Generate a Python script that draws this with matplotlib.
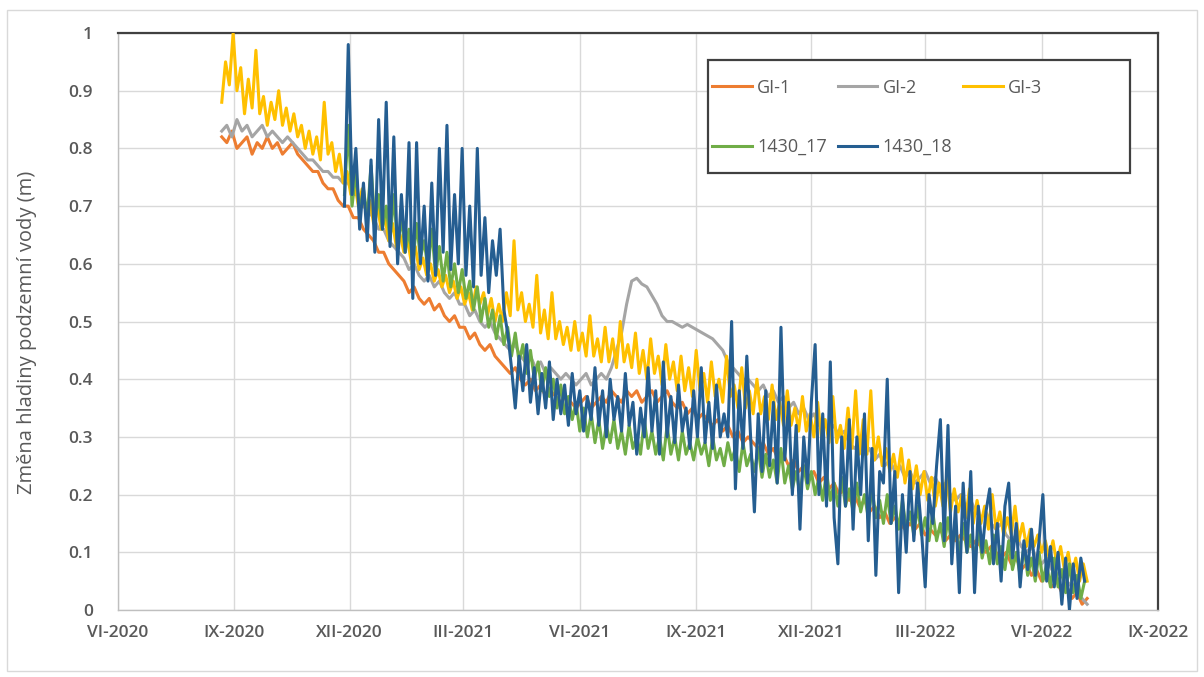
import numpy as np
import pandas as pd
import matplotlib
matplotlib.use("Agg")
import matplotlib.pyplot as plt
import matplotlib.dates as mdates
from matplotlib.patches import Rectangle

# ---- data (day offsets from 2020-06-01) ------------------------------------
ORIGIN = pd.Timestamp("2020-06-01")

GI1_START, GI1_STEP = 82, 4
GI1 = [0.82, 0.81, 0.83, 0.80, 0.81, 0.82, 0.79, 0.81, 0.80, 0.82,
       0.80, 0.81, 0.79, 0.80, 0.81, 0.79, 0.78, 0.77, 0.76, 0.76,
       0.74, 0.73, 0.73, 0.71, 0.70, 0.70, 0.68, 0.68, 0.66, 0.65,
       0.64, 0.62, 0.62, 0.60, 0.59, 0.58, 0.57, 0.55, 0.56, 0.54,
       0.53, 0.54, 0.52, 0.53, 0.51, 0.50, 0.51, 0.49, 0.49, 0.47,
       0.48, 0.46, 0.45, 0.46, 0.44, 0.43, 0.42, 0.41, 0.42, 0.40,
       0.39, 0.40, 0.38, 0.39, 0.37, 0.38, 0.37, 0.36, 0.37, 0.36,
       0.35, 0.36, 0.37, 0.35, 0.36, 0.37, 0.36, 0.38, 0.37, 0.36,
       0.38, 0.37, 0.38, 0.36, 0.37, 0.38, 0.36, 0.37, 0.38, 0.36,
       0.35, 0.36, 0.34, 0.35, 0.33, 0.34, 0.33, 0.32, 0.33, 0.31,
       0.32, 0.30, 0.31, 0.29, 0.30, 0.29, 0.28, 0.29, 0.27, 0.28,
       0.26, 0.27, 0.25, 0.26, 0.24, 0.25, 0.23, 0.24, 0.22, 0.23,
       0.21, 0.22, 0.20, 0.21, 0.19, 0.20, 0.18, 0.19, 0.17, 0.18,
       0.16, 0.17, 0.15, 0.16, 0.15, 0.14, 0.15, 0.14, 0.15, 0.13,
       0.14, 0.13, 0.14, 0.12, 0.13, 0.12, 0.13, 0.12, 0.11, 0.12,
       0.11, 0.10, 0.11, 0.10, 0.09, 0.10, 0.08, 0.09, 0.07, 0.08,
       0.06, 0.07, 0.05, 0.06, 0.04, 0.05, 0.03, 0.04, 0.02, 0.03,
       0.01, 0.02]

GI2_START, GI2_STEP = 82, 4
GI2 = [0.83, 0.84, 0.82, 0.85, 0.83, 0.84, 0.82, 0.83, 0.84, 0.82,
       0.83, 0.82, 0.81, 0.82, 0.81, 0.80, 0.79, 0.78, 0.78, 0.77,
       0.76, 0.76, 0.75, 0.75, 0.74, 0.74, 0.72, 0.72, 0.70, 0.69,
       0.68, 0.66, 0.66, 0.64, 0.63, 0.62, 0.61, 0.59, 0.60, 0.58,
       0.57, 0.58, 0.56, 0.57, 0.55, 0.54, 0.55, 0.53, 0.53, 0.51,
       0.52, 0.50, 0.49, 0.50, 0.48, 0.47, 0.46, 0.45, 0.46, 0.44,
       0.43, 0.44, 0.42, 0.43, 0.41, 0.42, 0.41, 0.40, 0.41, 0.40,
       0.39, 0.40, 0.41, 0.39, 0.40, 0.41, 0.40, 0.42, 0.45, 0.48,
       0.53, 0.57, 0.575, 0.565, 0.56, 0.545, 0.53, 0.51, 0.50, 0.50,
       0.495, 0.49, 0.495, 0.49, 0.485, 0.48, 0.475, 0.47, 0.46, 0.45,
       0.43, 0.42, 0.41, 0.40, 0.40, 0.39, 0.38, 0.39, 0.37, 0.38,
       0.36, 0.37, 0.35, 0.36, 0.34, 0.35, 0.33, 0.34, 0.32, 0.33,
       0.31, 0.32, 0.30, 0.31, 0.29, 0.28, 0.29, 0.27, 0.28, 0.26,
       0.27, 0.25, 0.26, 0.24, 0.25, 0.23, 0.24, 0.22, 0.23, 0.24,
       0.22, 0.23, 0.21, 0.22, 0.20, 0.19, 0.20, 0.18, 0.19, 0.17,
       0.16, 0.17, 0.15, 0.14, 0.15, 0.13, 0.12, 0.13, 0.11, 0.10,
       0.11, 0.09, 0.08, 0.09, 0.07, 0.06, 0.07, 0.05, 0.04, 0.03,
       0.02, 0.01]

GI3_START, GI3_STEP = 82, 3
GI3 = [0.88, 0.95, 0.91, 1.00, 0.90, 0.94, 0.86, 0.92, 0.87, 0.97,
       0.86, 0.89, 0.84, 0.88, 0.85, 0.90, 0.84, 0.87, 0.83, 0.86,
       0.82, 0.84, 0.80, 0.83, 0.79, 0.82, 0.78, 0.88, 0.79, 0.81,
       0.76, 0.79, 0.74, 0.76, 0.72, 0.74, 0.70, 0.73, 0.69, 0.71,
       0.67, 0.70, 0.66, 0.68, 0.64, 0.67, 0.63, 0.65, 0.62, 0.64,
       0.60, 0.63, 0.59, 0.61, 0.58, 0.60, 0.57, 0.59, 0.56, 0.58,
       0.55, 0.57, 0.54, 0.56, 0.53, 0.55, 0.52, 0.56, 0.53, 0.55,
       0.51, 0.54, 0.50, 0.53, 0.50, 0.55, 0.51, 0.64, 0.52, 0.55,
       0.50, 0.53, 0.49, 0.58, 0.48, 0.52, 0.47, 0.55, 0.47, 0.50,
       0.46, 0.49, 0.45, 0.50, 0.45, 0.48, 0.44, 0.51, 0.44, 0.47,
       0.43, 0.49, 0.43, 0.47, 0.42, 0.50, 0.43, 0.46, 0.42, 0.48,
       0.41, 0.45, 0.40, 0.47, 0.41, 0.44, 0.39, 0.46, 0.40, 0.43,
       0.38, 0.44, 0.38, 0.42, 0.37, 0.45, 0.38, 0.41, 0.36, 0.43,
       0.37, 0.40, 0.36, 0.44, 0.37, 0.39, 0.35, 0.42, 0.35, 0.38,
       0.34, 0.40, 0.34, 0.37, 0.33, 0.39, 0.33, 0.36, 0.32, 0.38,
       0.32, 0.35, 0.31, 0.37, 0.31, 0.34, 0.30, 0.36, 0.30, 0.33,
       0.29, 0.37, 0.29, 0.32, 0.28, 0.35, 0.28, 0.38, 0.27, 0.33,
       0.27, 0.38, 0.26, 0.30, 0.25, 0.28, 0.24, 0.27, 0.23, 0.28,
       0.22, 0.26, 0.21, 0.25, 0.20, 0.24, 0.19, 0.23, 0.18, 0.22,
       0.18, 0.23, 0.17, 0.21, 0.17, 0.20, 0.16, 0.21, 0.15, 0.19,
       0.15, 0.18, 0.14, 0.20, 0.14, 0.17, 0.13, 0.16, 0.13, 0.18,
       0.12, 0.15, 0.11, 0.14, 0.11, 0.13, 0.10, 0.12, 0.09, 0.12,
       0.08, 0.11, 0.07, 0.10, 0.06, 0.09, 0.05, 0.08, 0.05]

W17_START, W17_STEP = 179, 3
W17 = [0.72, 0.84, 0.70, 0.76, 0.69, 0.73, 0.68, 0.77, 0.67, 0.72,
       0.66, 0.70, 0.64, 0.72, 0.63, 0.68, 0.62, 0.66, 0.60, 0.67,
       0.61, 0.64, 0.59, 0.66, 0.58, 0.63, 0.57, 0.62, 0.56, 0.60,
       0.55, 0.59, 0.54, 0.57, 0.52, 0.56, 0.50, 0.54, 0.49, 0.52,
       0.47, 0.51, 0.46, 0.49, 0.44, 0.48, 0.43, 0.46, 0.41, 0.45,
       0.40, 0.43, 0.38, 0.42, 0.37, 0.40, 0.35, 0.39, 0.34, 0.37,
       0.33, 0.36, 0.31, 0.35, 0.30, 0.34, 0.29, 0.33, 0.28, 0.32,
       0.29, 0.33, 0.28, 0.31, 0.27, 0.32, 0.28, 0.30, 0.27, 0.33,
       0.28, 0.31, 0.27, 0.30, 0.26, 0.32, 0.27, 0.30, 0.26, 0.31,
       0.27, 0.29, 0.26, 0.30, 0.27, 0.29, 0.25, 0.30, 0.26, 0.28,
       0.25, 0.29, 0.26, 0.28, 0.24, 0.29, 0.25, 0.27, 0.24, 0.28,
       0.23, 0.27, 0.23, 0.26, 0.22, 0.28, 0.22, 0.25, 0.21, 0.24,
       0.20, 0.25, 0.21, 0.24, 0.20, 0.23, 0.19, 0.24, 0.19, 0.22,
       0.18, 0.23, 0.18, 0.21, 0.17, 0.22, 0.17, 0.20, 0.16, 0.21,
       0.16, 0.19, 0.15, 0.20, 0.15, 0.18, 0.14, 0.19, 0.14, 0.17,
       0.13, 0.18, 0.13, 0.16, 0.12, 0.17, 0.12, 0.15, 0.11, 0.16,
       0.11, 0.14, 0.10, 0.15, 0.10, 0.13, 0.09, 0.14, 0.09, 0.12,
       0.08, 0.13, 0.08, 0.11, 0.07, 0.12, 0.07, 0.10, 0.06, 0.11,
       0.06, 0.09, 0.05, 0.10, 0.05, 0.08, 0.04, 0.09, 0.04, 0.07,
       0.03, 0.08, 0.03, 0.06, 0.02, 0.05]

W18_START, W18_STEP = 179, 3
W18 = [0.70, 0.98, 0.72, 0.80, 0.66, 0.74, 0.64, 0.78, 0.62, 0.85,
       0.66, 0.88, 0.63, 0.82, 0.60, 0.72, 0.62, 0.81, 0.54, 0.81,
       0.60, 0.70, 0.57, 0.74, 0.58, 0.80, 0.62, 0.84, 0.59, 0.72,
       0.60, 0.80, 0.58, 0.70, 0.56, 0.80, 0.58, 0.68, 0.55, 0.64,
       0.58, 0.66, 0.52, 0.48, 0.42, 0.35, 0.44, 0.38, 0.46, 0.36,
       0.42, 0.34, 0.41, 0.35, 0.43, 0.33, 0.40, 0.34, 0.39, 0.32,
       0.41, 0.34, 0.38, 0.31, 0.37, 0.33, 0.42, 0.32, 0.38, 0.30,
       0.40, 0.33, 0.37, 0.31, 0.41, 0.32, 0.36, 0.27, 0.35, 0.30,
       0.42, 0.31, 0.38, 0.27, 0.43, 0.30, 0.37, 0.29, 0.39, 0.31,
       0.35, 0.28, 0.38, 0.30, 0.42, 0.29, 0.36, 0.28, 0.39, 0.30,
       0.34, 0.30, 0.50, 0.21, 0.38, 0.28, 0.44, 0.30, 0.17, 0.34,
       0.24, 0.38, 0.25, 0.36, 0.22, 0.49, 0.26, 0.36, 0.20, 0.32,
       0.14, 0.30, 0.22, 0.36, 0.46, 0.20, 0.34, 0.18, 0.43, 0.16,
       0.08, 0.30, 0.18, 0.33, 0.14, 0.30, 0.20, 0.34, 0.12, 0.28,
       0.06, 0.24, 0.22, 0.40, 0.15, 0.24, 0.03, 0.20, 0.10, 0.24,
       0.12, 0.22, 0.14, 0.04, 0.20, 0.15, 0.25, 0.33, 0.12, 0.32,
       0.08, 0.18, 0.03, 0.22, 0.10, 0.24, 0.03, 0.18, 0.10, 0.17,
       0.21, 0.08, 0.15, 0.05, 0.18, 0.22, 0.09, 0.15, 0.04, 0.12,
       0.07, 0.14, 0.06, 0.12, 0.20, 0.05, 0.11, 0.04, 0.10, 0.01,
       0.09, 0.00, 0.08, 0.02, 0.09, 0.05]

SERIES = [("GI-1", GI1_START, GI1_STEP, GI1, "#ED7D31"),
          ("GI-2", GI2_START, GI2_STEP, GI2, "#A5A5A5"),
          ("GI-3", GI3_START, GI3_STEP, GI3, "#FFC000"),
          ("1430_17", W17_START, W17_STEP, W17, "#70AD47"),
          ("1430_18", W18_START, W18_STEP, W18, "#255E91")]

TICK_DATES = ["2020-06-01", "2020-09-01", "2020-12-01", "2021-03-01",
              "2021-06-01", "2021-09-01", "2021-12-01", "2022-03-01",
              "2022-06-01", "2022-09-01"]
TICK_LABELS = ["VI-2020", "IX-2020", "XII-2020", "III-2021", "VI-2021",
               "IX-2021", "XII-2021", "III-2022", "VI-2022", "IX-2022"]
Y_TICKS = [0, 0.1, 0.2, 0.3, 0.4, 0.5, 0.6, 0.7, 0.8, 0.9, 1]
Y_LABELS = ["0", "0.1", "0.2", "0.3", "0.4", "0.5", "0.6", "0.7", "0.8", "0.9", "1"]

TXT = "#595959"
GRID = "#D9D9D9"
FRAME = "#404040"

plt.rcParams["font.family"] = ["Open Sans", "DejaVu Sans"]

fig = plt.figure(figsize=(12.04, 6.77), dpi=100)
ax = fig.add_axes([118 / 1204, 1 - 610 / 677, 1040 / 1204, 577 / 677])

# outer chart border
fig.patches.append(Rectangle((7 / 1204, 1 - 671 / 677), 1190 / 1204, 661 / 677,
                             transform=fig.transFigure, fill=False,
                             edgecolor="#D9D9D9", lw=1.0))

handles = {}
for name, start, step, vals, col in SERIES:
    dates = ORIGIN + pd.to_timedelta(start + step * np.arange(len(vals)), unit="D")
    ln, = ax.plot(dates, vals, color=col, lw=2.2, label=name, zorder=3)
    handles[name] = ln

ticks = [mdates.date2num(pd.Timestamp(d)) for d in TICK_DATES]
ax.set_xlim(ticks[0], ticks[-1])
ax.set_xticks(ticks)
ax.set_xticklabels(TICK_LABELS)
ax.set_ylim(0, 1)
ax.set_yticks(Y_TICKS)
ax.set_yticklabels(Y_LABELS)
ax.tick_params(length=0, colors=TXT, labelsize=12.5)
ax.tick_params(axis="y", pad=18)
ax.tick_params(axis="x", pad=11)
for lab in ax.get_xticklabels() + ax.get_yticklabels():
    lab.set_fontweight("semibold")
ax.grid(True, color=GRID, lw=1.0)
ax.set_axisbelow(True)

for s in ("top", "right"):
    ax.spines[s].set_color(FRAME)
    ax.spines[s].set_linewidth(1.6)
for s in ("left", "bottom"):
    ax.spines[s].set_color("#BFBFBF")
    ax.spines[s].set_linewidth(1.0)

ax.set_ylabel("Změna hladiny podzemní vody (m)", color=TXT, fontsize=14.5)
ax.yaxis.set_label_coords(-0.078, 0.482)

# legend with its own frame (row-major order like the original)
ax.add_patch(Rectangle((0.567, 0.757), 0.406, 0.196, transform=ax.transAxes,
                       facecolor="white", edgecolor=FRAME, lw=1.6, zorder=5))
order = ["GI-1", "1430_17", "GI-2", "1430_18", "GI-3"]
leg = ax.legend([handles[k] for k in order], order, ncol=3, frameon=False,
                loc="upper left", bbox_to_anchor=(0.571, 0.921),
                borderaxespad=0, borderpad=0, fontsize=13, labelcolor=TXT,
                handlelength=2.2, handletextpad=0.3, columnspacing=0.6,
                labelspacing=2.3)
leg.set_zorder(6)

fig.savefig("out.png", dpi=100, facecolor="white")
